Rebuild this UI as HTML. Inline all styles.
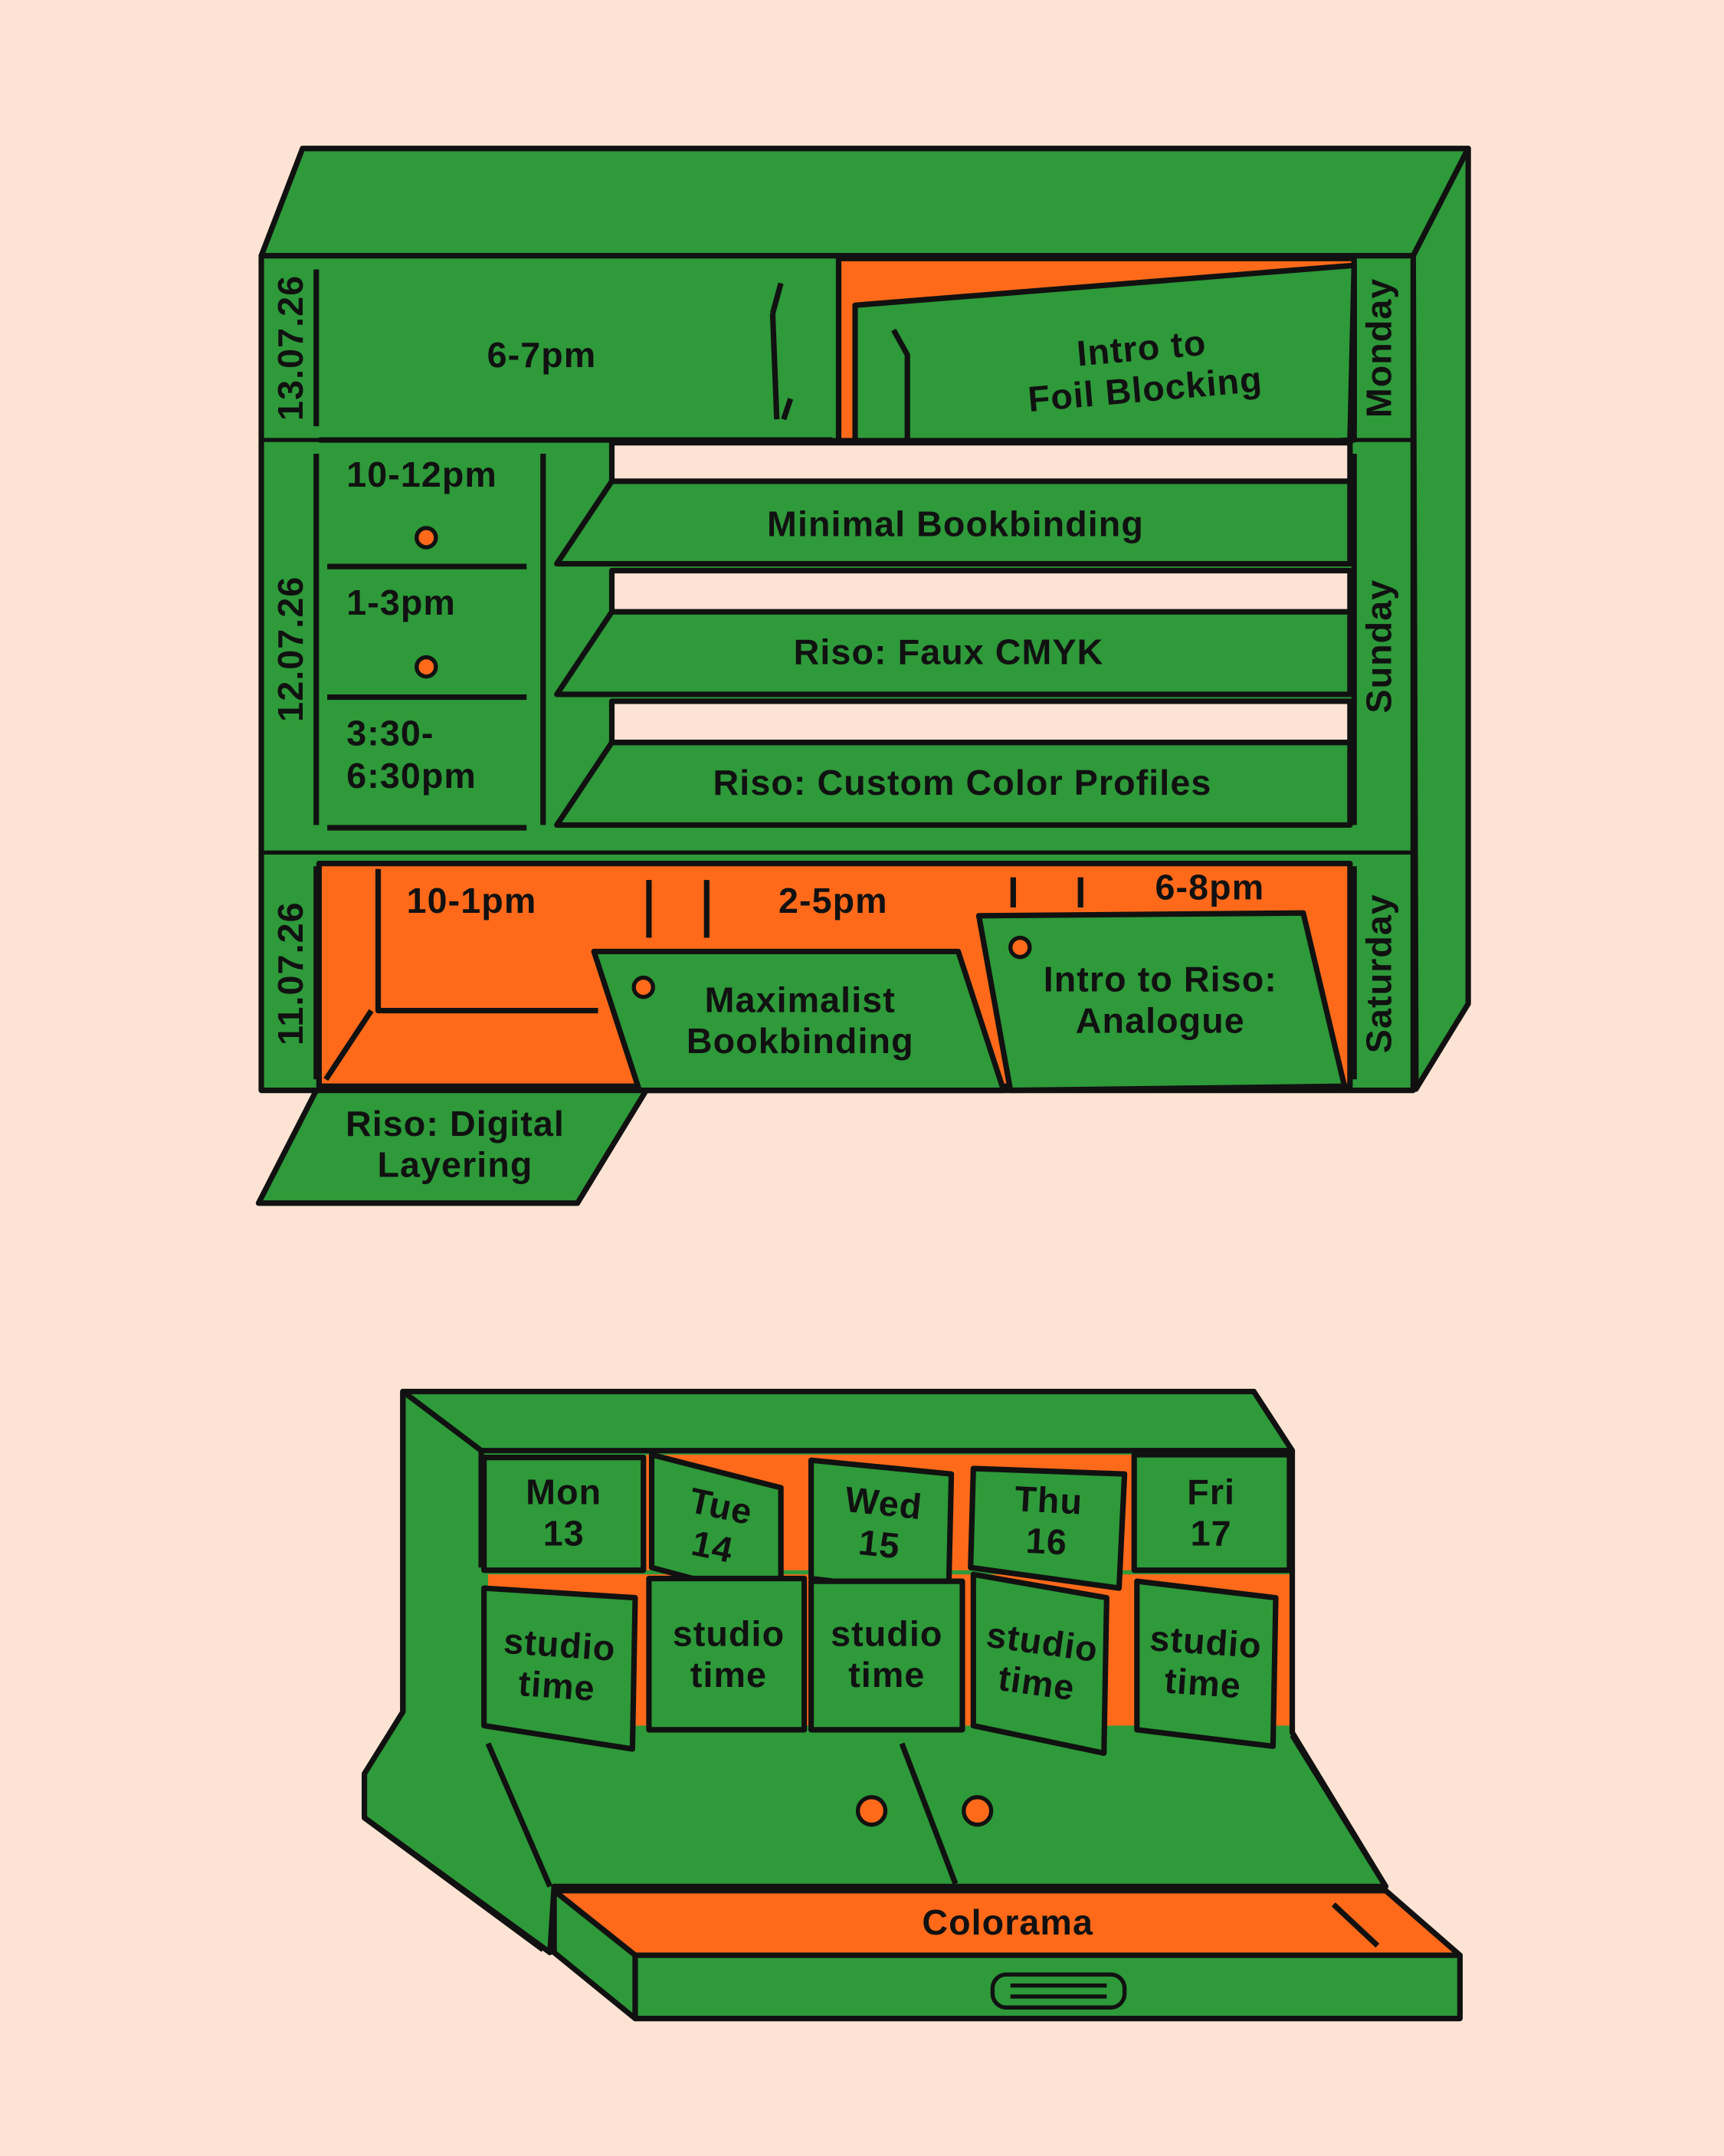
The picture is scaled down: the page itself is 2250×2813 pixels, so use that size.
<!DOCTYPE html>
<html><head><meta charset="utf-8"><style>
html,body{margin:0;padding:0;background:#fce3d3}
svg{display:block}
text{font-family:"Liberation Sans",sans-serif;font-weight:bold;fill:#111;font-size:26px;letter-spacing:0.6px}
</style></head><body>
<svg width="2250" height="2813" viewBox="0 0 1254 1568" xmlns="http://www.w3.org/2000/svg">
<rect width="1254" height="1568" fill="#fce3d3"/>
<g stroke="#111" stroke-width="4" stroke-linejoin="round">
<polygon points="220,108 1068,108 1028,186 190,186" fill="#2e9a3a"/>
<polygon points="1028,186 1068,108 1068,730 1030,792" fill="#2e9a3a"/>
<rect x="190" y="186" width="838" height="607" fill="#2e9a3a"/>
<line x1="230" y1="196" x2="230" y2="310"/>
<line x1="985" y1="196" x2="985" y2="310"/>
<line x1="232" y1="320" x2="605" y2="320"/>
<polygon points="610,188 985,188 985,320 610,345" fill="#ff6a1a"/>
<polygon points="622,222 985,193 982,320 622,345" fill="#2e9a3a"/>
<path d="M562,228 L568,206 M562,228 L565,305 M575,290 L570,305" fill="none"/>
<path d="M650,240 L660,258 L660,340 M650,322 L648,340" fill="none"/>
<line x1="190" y1="320" x2="1028" y2="320" stroke-width="3"/>
<line x1="230" y1="330" x2="230" y2="600"/>
<line x1="395" y1="330" x2="395" y2="600"/>
<line x1="238" y1="412" x2="383" y2="412"/>
<line x1="238" y1="507" x2="383" y2="507"/>
<line x1="238" y1="602" x2="383" y2="602"/>
<line x1="985" y1="330" x2="985" y2="600"/>
<rect x="445" y="322" width="537" height="28" fill="#fce3d3"/>
<rect x="445" y="415" width="537" height="30" fill="#fce3d3"/>
<rect x="445" y="510" width="537" height="30" fill="#fce3d3"/>
<polygon points="445,350 982,350 982,410 405,410" fill="#2e9a3a"/>
<polygon points="445,445 982,445 982,505 405,505" fill="#2e9a3a"/>
<polygon points="445,540 982,540 982,600 405,600" fill="#2e9a3a"/>
<circle cx="310" cy="391" r="7" fill="#ff6a1a" stroke-width="3"/>
<circle cx="310" cy="485" r="7" fill="#ff6a1a" stroke-width="3"/>
<line x1="190" y1="620" x2="1028" y2="620" stroke-width="3"/>
<polygon points="232,628 982,628 982,790 232,790" fill="#ff6a1a"/>
<line x1="230" y1="630" x2="230" y2="785"/>
<line x1="985" y1="630" x2="985" y2="785"/>
<path d="M275,632 L275,735 L435,735 M270,735 L237,785" fill="none"/>
<path d="M472,640 L472,682 M514,640 L514,682 M737,638 L737,660 M786,638 L786,660" fill="none"/>
<polygon points="432,692 697,692 730,793 465,793" fill="#2e9a3a"/>
<polygon points="712,666 948,664 978,790 735,793" fill="#2e9a3a"/>
<polygon points="230,793 470,793 420,875 188,875" fill="#2e9a3a"/>
<circle cx="468" cy="718" r="7" fill="#ff6a1a" stroke-width="3"/>
<circle cx="742" cy="689" r="7" fill="#ff6a1a" stroke-width="3"/>
<polygon points="293,1012 912,1012 940,1055 940,1260 1008,1372 403,1372 400,1420 265,1322 265,1290 293,1245" fill="#2e9a3a"/>
<polygon points="293,1012 912,1012 940,1055 350,1055" fill="#2e9a3a"/>
<line x1="350" y1="1055" x2="350" y2="1140"/>
<line x1="293" y1="1012" x2="293" y2="1245"/>
<rect x="470" y="1058" width="468" height="84" fill="#ff6a1a" stroke="none"/>
<rect x="355" y="1145" width="583" height="110" fill="#ff6a1a" stroke="none"/>
<polygon points="352,1060 468,1060 468,1142 352,1142" fill="#2e9a3a"/>
<polygon points="474,1058 568,1082 568,1165 474,1140" fill="#2e9a3a"/>
<polygon points="590,1062 692,1072 690,1160 590,1148" fill="#2e9a3a"/>
<polygon points="708,1068 818,1072 814,1155 706,1140" fill="#2e9a3a"/>
<polygon points="825,1058 938,1058 938,1142 825,1142" fill="#2e9a3a"/>
<polygon points="352,1155 462,1162 460,1272 352,1255" fill="#2e9a3a"/>
<polygon points="472,1148 585,1148 585,1258 472,1258" fill="#2e9a3a"/>
<polygon points="590,1150 700,1150 700,1258 590,1258" fill="#2e9a3a"/>
<polygon points="708,1145 805,1162 803,1275 708,1255" fill="#2e9a3a"/>
<polygon points="827,1150 928,1162 926,1270 827,1258" fill="#2e9a3a"/>
<path d="M355,1268 L400,1372 M656,1268 L695,1370 M940,1262 L1008,1372 M265,1322 L395,1418" fill="none"/>
<circle cx="634" cy="1317" r="10" fill="#ff6a1a" stroke-width="3"/>
<circle cx="711" cy="1317" r="10" fill="#ff6a1a" stroke-width="3"/>
<polygon points="403,1375 1008,1375 1062,1422 462,1422" fill="#ff6a1a"/>
<polygon points="403,1375 462,1422 462,1468 403,1420" fill="#2e9a3a"/>
<rect x="462" y="1422" width="600" height="46" fill="#2e9a3a"/>
<line x1="970" y1="1385" x2="1002" y2="1415"/>
<rect x="722" y="1436" width="96" height="24" rx="10" fill="none" stroke-width="3"/>
<line x1="735" y1="1444" x2="805" y2="1444" stroke-width="3"/>
<line x1="735" y1="1452" x2="805" y2="1452" stroke-width="3"/>
</g>
<text x="394" y="267" text-anchor="middle">6-7pm</text>
<g transform="rotate(-5 832 272)"><text x="832" y="262" text-anchor="middle">Intro to</text><text x="832" y="292" text-anchor="middle">Foil Blocking</text></g>
<text transform="translate(220,253) rotate(-90)" text-anchor="middle">13.07.26</text>
<text transform="translate(1012,253) rotate(-90)" text-anchor="middle">Monday</text>
<text x="252" y="354">10-12pm</text>
<text x="252" y="447">1-3pm</text>
<text x="252" y="542">3:30-</text>
<text x="252" y="573">6:30pm</text>
<text x="695" y="390" text-anchor="middle">Minimal Bookbinding</text>
<text x="690" y="483" text-anchor="middle">Riso: Faux CMYK</text>
<text x="700" y="578" text-anchor="middle">Riso: Custom Color Profiles</text>
<text transform="translate(220,472) rotate(-90)" text-anchor="middle">12.07.26</text>
<text transform="translate(1012,470) rotate(-90)" text-anchor="middle">Sunday</text>
<text transform="translate(220,708) rotate(-90)" text-anchor="middle">11.07.26</text>
<text transform="translate(1012,708) rotate(-90)" text-anchor="middle">Saturday</text>
<text x="343" y="664" text-anchor="middle">10-1pm</text>
<text x="606" y="664" text-anchor="middle">2-5pm</text>
<text x="880" y="654" text-anchor="middle">6-8pm</text>
<text x="582" y="736" text-anchor="middle">Maximalist</text>
<text x="582" y="766" text-anchor="middle">Bookbinding</text>
<text x="844" y="721" text-anchor="middle">Intro to Riso:</text>
<text x="844" y="751" text-anchor="middle">Analogue</text>
<text x="331" y="826" text-anchor="middle">Riso: Digital</text>
<text x="331" y="856" text-anchor="middle">Layering</text>
<text x="410" y="1094" text-anchor="middle">Mon</text><text x="410" y="1124" text-anchor="middle">13</text>
<g transform="rotate(12 521 1112)"><text x="521" y="1104" text-anchor="middle">Tue</text><text x="521" y="1134" text-anchor="middle">14</text></g>
<g transform="rotate(6 641 1110)"><text x="641" y="1102" text-anchor="middle">Wed</text><text x="641" y="1132" text-anchor="middle">15</text></g>
<g transform="rotate(3 762 1108)"><text x="762" y="1100" text-anchor="middle">Thu</text><text x="762" y="1130" text-anchor="middle">16</text></g>
<text x="881" y="1094" text-anchor="middle">Fri</text><text x="881" y="1124" text-anchor="middle">17</text>
<g transform="rotate(4 406 1212)"><text x="406" y="1205" text-anchor="middle">studio</text><text x="406" y="1235" text-anchor="middle">time</text></g>
<text x="530" y="1197" text-anchor="middle">studio</text><text x="530" y="1227" text-anchor="middle">time</text>
<text x="645" y="1197" text-anchor="middle">studio</text><text x="645" y="1227" text-anchor="middle">time</text>
<g transform="rotate(8 756 1210)"><text x="756" y="1203" text-anchor="middle">studio</text><text x="756" y="1233" text-anchor="middle">time</text></g>
<g transform="rotate(4 876 1210)"><text x="876" y="1203" text-anchor="middle">studio</text><text x="876" y="1233" text-anchor="middle">time</text></g>
<text x="733" y="1407" text-anchor="middle">Colorama</text>
</svg>
</body></html>
